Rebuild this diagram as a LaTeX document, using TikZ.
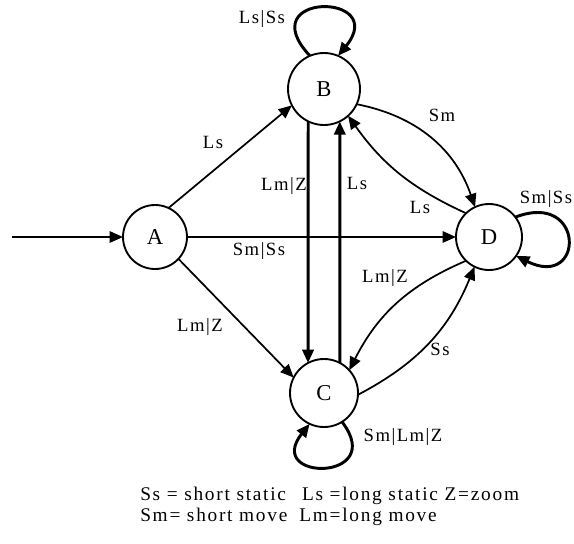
\documentclass[tikz,border=0pt]{standalone}
\usepackage{fontspec}
\setmainfont{Liberation Serif}
\usetikzlibrary{arrows.meta}

\begin{document}
\begin{tikzpicture}[x=0.75pt,y=0.75pt,
  state/.style={circle,draw,line width=1.4pt,inner sep=0pt,outer sep=0pt,
    font=\fontsize{17}{17}\selectfont},
  lbl/.style={inner sep=0pt,
    font=\fontsize{14}{14}\selectfont\addfontfeatures{LetterSpace=8}},
  keytext/.style={inner sep=0pt,anchor=west,
    font=\fontsize{14.5}{14.5}\selectfont\addfontfeatures{LetterSpace=9}},
  arr/.style={-{Triangle[length=10pt,width=8.5pt]},line width=1.3pt},
  heavy/.style={arr,line width=2.2pt},
]
\useasboundingbox (0,0) rectangle (574,-543);

% states
\node[state,minimum size=48pt]   (A) at (155,-237) {A};
\node[state,minimum size=54pt]   (B) at (324,-89)  {B};
\node[state,minimum size=51pt]   (C) at (324,-393) {C};
\node[state,minimum size=49.5pt] (D) at (489,-237) {D};
\coordinate (start) at (12,-237);

% transitions
\draw[arr] (start) -- (A);
\draw[arr] (A.65) -- (B.207);
\draw[arr] (A.-43) -- (C.153);
\draw[arr] (A) -- (D);
\draw[heavy] (B.244) -- (C.118);
\draw[heavy] (C.62) -- (B.296);
\draw[arr] (B.335) to[bend left=30] (D.115);
\draw[arr] (D.134) to[bend left=15] (B.312);
\draw[arr] (D.226) to[bend right=20] (C.42);
\draw[arr] (C.-3) to[bend right=20] (D.244);

% self loops
\draw[heavy] (B.113) .. controls +(-60,64) and +(52,64) .. (B.67);
\draw[heavy] (D.37) .. controls +(70,27) and +(69,-34) .. (D.-35);
\draw[heavy] (C.-58) .. controls +(46,-60) and +(-46,-58) .. (C.245);

% transition labels
\node[lbl] (l1)  at (213,-142) {Ls};
\node[lbl] (l2)  at (259,-251) {Sm|Ss};
\node[lbl] (l3)  at (200,-327) {Lm|Z};
\node[lbl] (l4)  at (284,-186) {Lm|Z};
\node[lbl] (l5)  at (357,-183) {Ls};
\node[lbl] (l6)  at (442,-115) {Sm};
\node[lbl] (l7)  at (420,-207) {Ls};
\node[lbl] (l8)  at (385,-278) {Lm|Z};
\node[lbl] (l9)  at (440,-349) {Ss};
\node[lbl] (l10) at (262,-19)  {Ls|Ss};
\node[lbl] (l11) at (546,-199) {Sm|Ss};
\node[lbl] (l12) at (403,-437) {Sm|Lm|Z};

% key
\node[keytext] (key1) at (140,-496)
  {Ss = short static\hspace{12pt}Ls =long static\hspace{5pt}Z=zoom};
\node[keytext] (key2) at (140,-517)
  {Sm= short move\hspace{9pt}Lm=long move};
\end{tikzpicture}
\end{document}
